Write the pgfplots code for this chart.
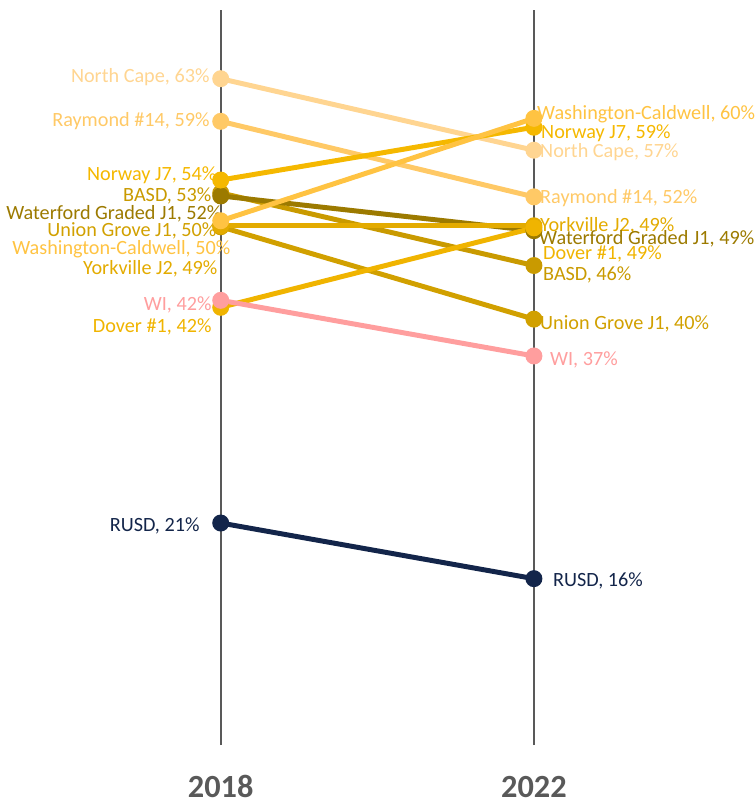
\documentclass[border=0pt]{standalone}
\usepackage{fontspec}
\setmainfont{Carlito}
\usepackage{pgfplots}
\pgfplotsset{compat=1.18}
\definecolor{vgray}{HTML}{595959}
\definecolor{cNC}{HTML}{FFD591}
\definecolor{cRY}{HTML}{FFC966}
\definecolor{cNW}{HTML}{F5B800}
\definecolor{cBA}{HTML}{C99A00}
\definecolor{cWF}{HTML}{9C7A00}
\definecolor{cUG}{HTML}{D1A000}
\definecolor{cWC}{HTML}{FFC342}
\definecolor{cYV}{HTML}{E3AB00}
\definecolor{cDV}{HTML}{F0B400}
\definecolor{cWI}{HTML}{FF9E9E}
\definecolor{cRU}{HTML}{13254A}
\tikzset{lab/.style={font=\fontsize{12.2}{14}\selectfont, inner sep=0pt, yshift=-1.5pt}}
\begin{document}
\begin{tikzpicture}
\begin{axis}[
  scale only axis, width=189pt, height=443.7pt,
  xmin=0, xmax=1, ymin=0, ymax=69.5, clip=false,
  axis line style={draw=none}, ymajorticks=false,
  xtick={0,1}, xticklabels={2018,2022}, major tick length=0pt,
  xticklabel style={font=\bfseries\fontsize{19.5}{22}\selectfont, text=vgray, anchor=center, inner sep=0pt, yshift=-25pt},
  every axis plot/.append style={line width=3pt, mark=*, mark size=3.6pt},
]
\coordinate (bbl) at (axis cs:-0.7048,-5.75);
\coordinate (btr) at (axis cs:1.7048,70.44);
\addplot[mark=none, line width=1.2pt, color=vgray] coordinates {(0,0) (0,69.5)};
\addplot[mark=none, line width=1.2pt, color=vgray] coordinates {(1,0) (1,69.5)};
% North Cape
\addplot[color=cNC] coordinates {(0,63.0) (1,56.24)};
% Raymond #14
\addplot[color=cRY] coordinates {(0,58.97) (1,51.83)};
% Union Grove J1
\addplot[color=cUG] coordinates {(0,49.0) (1,40.27)};
% BASD
\addplot[color=cBA] coordinates {(0,52.2) (1,45.34)};
% Waterford Graded J1
\addplot[color=cWF] coordinates {(0,51.92) (1,48.63)};
% Yorkville J2
\addplot[color=cYV] coordinates {(0,49.1) (1,49.1)};
% Dover #1
\addplot[color=cDV] coordinates {(0,41.39) (1,48.9)};
% Norway J7
\addplot[color=cNW] coordinates {(0,53.42) (1,58.41)};
% Washington-Caldwell
\addplot[color=cWC] coordinates {(0,49.57) (1,59.25)};
% WI
\addplot[color=cWI] coordinates {(0,42.05) (1,36.79)};
% RUSD
\addplot[color=cRU] coordinates {(0,21.0) (1,15.74)};
% left labels
\node[lab, anchor=east, text=cNC, xshift=-6.6pt] at (axis cs:0,63.39) {North Cape, 63\%};
\node[lab, anchor=east, text=cRY, xshift=-6.6pt] at (axis cs:0,59.25) {Raymond \#14, 59\%};
\node[lab, anchor=east, text=cNW, xshift=-2.4pt] at (axis cs:0,54.08) {Norway J7, 54\%};
\node[lab, anchor=east, text=cBA, xshift=-5.4pt] at (axis cs:0,52.11) {BASD, 53\%};
\node[lab, anchor=east, text=cWF, xshift=0.6pt] at (axis cs:0,50.42) {Waterford Graded J1, 52\%};
\node[lab, anchor=east, text=cUG, xshift=-2.4pt] at (axis cs:0,48.82) {Union Grove J1, 50\%};
\node[lab, anchor=east, text=cWC, xshift=6pt] at (axis cs:0,47.13) {Washington-Caldwell, 50\%};
\node[lab, anchor=east, text=cYV, xshift=-1.8pt] at (axis cs:0,45.25) {Yorkville J2, 49\%};
\node[lab, anchor=east, text=cWI, xshift=-5.4pt] at (axis cs:0,41.86) {WI, 42\%};
\node[lab, anchor=east, text=cDV, xshift=-5.4pt] at (axis cs:0,39.80) {Dover \#1, 42\%};
\node[lab, anchor=east, text=cRU, xshift=-12.6pt] at (axis cs:0,21.0) {RUSD, 21\%};
% right labels
\node[lab, anchor=west, text=cWC, xshift=1.8pt] at (axis cs:1,59.91) {Washington-Caldwell, 60\%};
\node[lab, anchor=west, text=cNW, xshift=4.2pt] at (axis cs:1,58.12) {Norway J7, 59\%};
\node[lab, anchor=west, text=cNC, xshift=3.6pt] at (axis cs:1,56.34) {North Cape, 57\%};
\node[lab, anchor=west, text=cRY, xshift=3.6pt] at (axis cs:1,51.92) {Raymond \#14, 52\%};
\node[lab, anchor=west, text=cYV, xshift=3.6pt] at (axis cs:1,49.29) {Yorkville J2, 49\%};
\node[lab, anchor=west, text=cWF, xshift=3pt] at (axis cs:1,48.07) {Waterford Graded J1, 49\%};
\node[lab, anchor=west, text=cDV, xshift=5.4pt] at (axis cs:1,46.66) {Dover \#1, 49\%};
\node[lab, anchor=west, text=cBA, xshift=5.4pt] at (axis cs:1,44.68) {BASD, 46\%};
\node[lab, anchor=west, text=cUG, xshift=3.6pt] at (axis cs:1,40.08) {Union Grove J1, 40\%};
\node[lab, anchor=west, text=cWI, xshift=9.6pt] at (axis cs:1,36.70) {WI, 37\%};
\node[lab, anchor=west, text=cRU, xshift=11.4pt] at (axis cs:1,15.74) {RUSD, 16\%};
\end{axis}
\pgfresetboundingbox
\path[use as bounding box] (bbl) rectangle (btr);
\end{tikzpicture}
\end{document}
